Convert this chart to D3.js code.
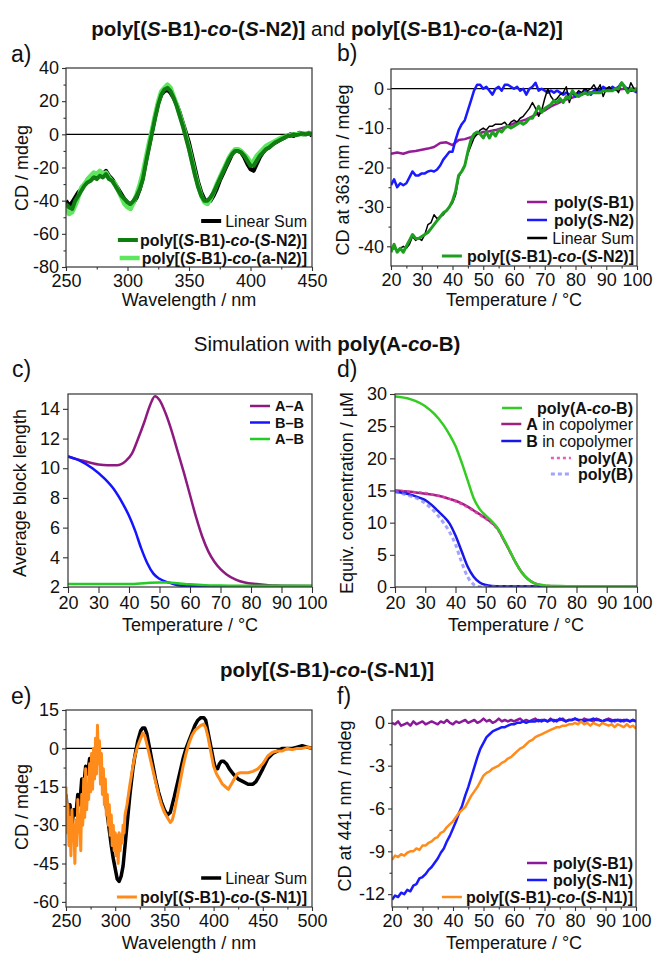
<!DOCTYPE html>
<html lang="en">
<head>
<meta charset="UTF-8" />
<title>CD spectra, melting curves and copolymer simulation</title>
<script src="https://d3js.org/d3.v7.min.js"></script>
<style>
  body { margin: 0; background: #fff; }
  svg { font-family: 'Liberation Sans', Arial, Helvetica, sans-serif; }
  text { white-space: pre; fill: #111; }
  .axis line { stroke: #333; stroke-width: 1.1; }
  .axis text { font-size: 18px; fill: #111; font-family: 'Liberation Sans', Arial, sans-serif; }
</style>
</head>
<body>
<svg id="fig" width="655" height="953"></svg>
<script>
// ---------- a) CD spectra, 250-450 nm ----------
const aWave = d3.range(250, 450.01, 2.5);
const aLinSum = [-40,-43,-41,-38,-35,-33,-30,-28,-26,-24,
  -25,-23,-24,-22,-25,-27,-30,-33,-36,-39,
  -41,-43,-41,-38,-33,-26,-16,-7,2,11,
  19,24,26,27,25,22,18,13,7,1,
  -5,-13,-21,-29,-35,-39,-41,-40,-37,-33,
  -28,-24,-20,-16,-12,-10,-10,-11,-14,-18,
  -21,-22,-18,-14,-11,-9,-8,-6,-5,-4,
  -3,-2,-1,0,-1,0,1,0,0,1,
  -1];
const aSN2 = [-42,-44,-45,-40,-37,-34,-31,-29,-28,-26,
  -27,-25,-26,-24,-27,-28,-31,-34,-37,-39,
  -41,-42,-40,-37,-33,-27,-17,-8,1,10,
  18,24,27,28,26,22,17,11,5,-2,
  -9,-17,-25,-32,-37,-40,-40,-38,-35,-31,
  -27,-23,-19,-15,-12,-10,-10,-11,-13,-16,
  -19,-19,-16,-13,-11,-9,-8,-6.5,-5,-4,
  -3,-2,-1,-1,0,-0.5,0,0.5,0,0.5,
  0];
const aAN2 = [-44,-48,-47,-43,-38,-32,-30,-27,-25,-23,
  -24,-22,-24,-23,-26,-28,-30,-34,-38,-42,
  -44,-45,-41,-36,-30,-23,-14,-5,3,12,
  20,26,28,30,28,23,18,12,6,-1,
  -8,-16,-24,-31,-37,-41,-42,-39,-35,-30,
  -26,-22,-18,-14,-11,-9,-9,-10,-12,-14,
  -17,-16,-13,-11,-9,-7,-6,-5,-4,-3,
  -2,-1.5,-1,-0.5,0,0,0.5,0,0.5,0.5,
  0.5];

// ---------- b) CD at 363 nm vs temperature ----------
const bTemp1 = d3.range(20, 100.01, 1);
const bTemp2 = d3.range(20, 100.01, 2);
const bSB1 = [-16.5,-16.2,-16.5,-16,-15.8,-15.5,-15.2,-14.8,-13.8,-13.6,
  -14.3,-13,-12.8,-12.3,-11.5,-11,-10.8,-10.5,-10,-9.5,
  -8.8,-8.3,-7.8,-7,-6.2,-5.5,-4.5,-3.8,-3,-2.5,
  -2,-1.5,-1,-0.8,-0.6,-0.4,-0.3,-0.2,0,0,
  0];
const bSN2 = [-24.5,-23,-25,-24,-24.5,-24,-22.5,-21,-22,-22,
  -21.5,-21.5,-21,-20.8,-21,-20.5,-19.5,-18,-17,-16,
  -16,-13,-10.5,-9,-8,-5.5,-3,-0.5,1,1,
  0,0.5,-0.5,-1.5,0,0.5,-0.5,1,1,0.5,
  0,0.5,-0.5,0,-1.5,0,0.5,1.5,-0.5,0,
  -0.5,-1,-0.5,-1,-0.5,-1,-1.5,-1,-1.5,-1,
  -2,-1,-1.5,-0.5,-1,-1.5,-0.5,0,-0.5,0.5,
  0,-0.5,0.5,0,0.5,1.5,0.5,0,-0.5,-0.5,
  -1];
const bLinSum = [-41,-40.5,-41,-40.5,-40,-40.5,-39.5,-37.5,-38.5,-38,
  -38.5,-37,-34.5,-34,-32,-33,-32.5,-32,-31,-30,
  -29,-27,-22.5,-21,-19.5,-16.5,-14.5,-12.5,-11.5,-10.5,
  -10,-10.5,-9.5,-9.5,-9,-9,-9,-8.5,-9.5,-8.5,
  -8,-8.5,-7.5,-7,-6,-5,-3.5,-5,-7,-5.5,
  -2.5,0,-2,-3,-2.5,-1.5,-1,0.5,-3.5,-1,
  -1.5,-0.5,-1,0,-0.5,0,1,-0.5,1,-2,
  0,0.5,-0.5,0,-1,1.5,0,-1,1.5,0,
  -0.5];
const bCo = [-41.5,-39.5,-41.5,-40.5,-41.5,-40,-38.5,-37,-38,-38,
  -37.5,-37,-36.5,-35.5,-34.5,-33.5,-32.5,-31.5,-31,-30,
  -28.5,-26,-22,-21,-19.5,-16,-13,-11.5,-11,-11.5,
  -12.5,-11,-12.5,-11,-12,-10.5,-11,-10,-9.5,-10,
  -9.5,-9,-8.5,-9,-8.5,-7.5,-7.5,-6,-4.5,-6,
  -5,-4.5,-4,-3,-3.5,-2.5,-3.5,-2,-2.5,-0.5,
  -1.5,-2,-1.5,-1,-1.5,-1,-1,-1,-1,-0.5,
  -0.5,-0.5,-0.5,0,0,1.5,0.5,-1,0,-0.5,
  0];

// ---------- c) average block length (simulation) ----------
const cAAT = [20,25,30,33,36,39,41,43,45,47,48.5,50,52,54,56,58,60,62,64,66,68,70,72,75,78,82,88,100];
const cAA = [10.8,10.5,10.25,10.2,10.2,10.5,11.0,12.0,13.1,14.3,14.85,14.6,13.7,12.5,11.1,9.7,8.2,6.7,5.4,4.4,3.7,3.2,2.85,2.5,2.3,2.2,2.1,2.07];
const cBBT = [20,24,28,32,35,38,40,42,44,46,48,50,53,56,60,70,100];
const cBB = [10.8,10.5,10.0,9.3,8.6,7.6,6.8,5.8,4.6,3.6,2.9,2.55,2.3,2.12,2.05,2.05,2.05];
const cABT = [20,30,40,46,50,53,56,60,65,70,80,100];
const cAB = [2.2,2.2,2.2,2.27,2.3,2.3,2.25,2.18,2.12,2.1,2.08,2.08];

// ---------- d) equivalent concentrations (simulation) ----------
const dCoT = [20,25,30,33,36,38,40,42,44,46,48,50,52,54,56,58,60,62,64,66,68,70,75,80,90,100];
const dCo = [29.6,29.2,28.1,26.9,25.2,23.7,21.9,19.4,16.6,13.8,12.1,11.1,10.2,9.1,7.4,5.6,3.7,2.2,1.2,0.6,0.35,0.2,0.15,0.1,0.1,0.1];
const dAT = [20,25,30,33,36,38,40,42,44,46,48,50,52,54,56,58,60,62,64,66,68,70,80,100];
const dA = [15,14.8,14.5,14.3,14.0,13.7,13.4,13.0,12.5,11.9,11.3,10.7,10.0,9.0,7.3,5.5,3.7,2.2,1.2,0.6,0.3,0.15,0.1,0.1];
const dPolyA = [15,14.8,14.6,14.3,14.0,13.7,13.3,12.9,12.4,11.8,11.2,10.6,9.9,8.9,7.3,5.5,3.7,2.2,1.2,0.6,0.3,0.15,0.1,0.1];
const dBT = [20,24,28,30,32,34,36,38,40,42,44,46,48,50,52,55,100];
const dB = [14.8,14.5,13.9,13.5,12.8,11.9,11.0,9.9,8.0,5.6,3.2,1.6,0.7,0.3,0.15,0.1,0.1];
const dPolyBT = [20,24,28,32,36,38,40,42,44,46,48,100];
const dPolyB = [14.8,14.3,13.6,12.2,10.0,8.6,6.6,3.9,1.6,0.4,0.05,0.05];

// ---------- e) CD spectra, 250-500 nm ([nm, mdeg]) ----------
const eLinSum = [[250,-18],[252,-28],[254,-22],[256,-30],[258,-24],[260,-26],[262,-18],[264,-22],[266,-12],[268,-15],
  [270,-7],[272,-10],[274,-4],[276,-6],[278,-2],[280,0],[282,3],[284,-2],[286,-8],[288,-14],[290,-20],[292,-26],
  [294,-32],[296,-38],[298,-43],[300,-47],[302,-51],[304,-52],[306,-50],[308,-46],[310,-38],[312,-30],[315,-18],
  [318,-8],[320,-3],[323,3],[326,7],[328,8],[330,8],[332,6],[335,0],[338,-6],[341,-12],[344,-17],[347,-21],
  [350,-24],[353,-26],[356,-25],[358,-22],[360,-19],[363,-14],[366,-9],[369,-4],[372,0],[375,3],[378,6],[381,9],
  [384,11],[387,12],[390,12],[392,11],[394,7],[396,3],[398,-1],[400,-5],[402,-8],[404,-8],[406,-6],[408,-5],
  [410,-5],[413,-6],[416,-8],[420,-10],[425,-12],[430,-13],[435,-14],[440,-14],[443,-13],[446,-11],[450,-8],
  [455,-4],[460,-2],[465,-1],[470,0],[475,0],[480,0],[485,0.5],[490,1],[495,0.5],[500,0]];
const eCo = [[250,-15],[251,-33],[252,-22],[253,-38],[254,-27],[255,-42],[256,-24],[257,-36],[258,-30],[259,-45],
  [260,-28],[261,-38],[262,-20],[263,-33],[264,-26],[265,-40],[266,-18],[267,-30],[268,-12],[269,-27],[270,-8],
  [271,-24],[272,-14],[273,-20],[274,-6],[275,-17],[276,-2],[277,-16],[278,0],[279,-12],[280,4],[281,-10],[282,9],
  [283,-6],[284,3],[285,-14],[286,-2],[287,-18],[288,-8],[289,-22],[290,-12],[291,-26],[292,-18],[293,-30],
  [294,-22],[295,-34],[296,-26],[297,-38],[298,-30],[299,-40],[300,-33],[301,-42],[302,-34],[303,-45],[304,-33],
  [305,-40],[306,-34],[307,-37],[308,-30],[309,-33],[310,-26],[312,-22],[315,-14],[318,-7],[320,-3],[323,1],
  [326,4],[328,6],[330,5],[332,2],[335,-3],[338,-8],[341,-13],[344,-18],[347,-22],[350,-25],[353,-27],[356,-29],
  [358,-28],[360,-25],[363,-19],[366,-13],[369,-7],[372,-2],[375,2],[378,5],[381,7],[384,8],[387,9],[390,9.5],
  [392,8],[394,5],[396,1],[398,-3],[400,-7],[403,-10],[406,-12],[409,-14],[412,-15],[415,-16],[418,-14],[421,-12],
  [424,-10],[427,-9.5],[430,-9.5],[435,-9.5],[440,-9],[445,-8],[450,-6],[455,-3],[460,-1.5],[465,-1],[470,-1],
  [475,0],[480,-0.5],[485,0],[490,0],[495,0.5],[500,0]];

// ---------- f) CD at 441 nm vs temperature ----------
const fTemp = d3.range(20, 100.01, 1);
const fSB1 = [0,-0.1,0.1,-0.2,-0.1,0,-0.2,0.1,-0.1,0,
  0.1,-0.1,0,0.1,0,-0.1,0.1,0,0.2,0,
  -0.1,0.1,0,0.1,0.2,0,0.1,0.2,0,0.1,
  0.3,0.1,0.2,0,0.1,0.3,0.1,0.2,0.1,0.2,
  0.1,0.2,0.3,0.1,0.2,0.1,0.2,0.3,0.1,0.2,
  0.2,0.1,0.3,0.1,0.2,0.2,0.3,0.1,0.2,0.2,
  0.3,0.2,0.1,0.3,0.2,0.2,0.1,0.3,0.2,0.1,
  0.2,0.3,0.2,0.1,0.2,0.2,0.1,0.2,0.1,0.2,
  0.1];
const fSN1 = [-12.4,-12.1,-12.2,-11.9,-12.0,-11.7,-11.8,-11.4,-11.3,-10.9,
  -10.8,-10.6,-10.3,-10.1,-9.8,-9.5,-9.1,-8.8,-8.3,-7.9,
  -7.4,-6.9,-6.3,-5.8,-5.1,-4.5,-3.8,-3.1,-2.4,-1.8,
  -1.4,-1.0,-0.8,-0.6,-0.5,-0.4,-0.3,-0.3,-0.2,-0.1,
  -0.1,0,0,0.1,0,0.1,0.1,0.1,0.2,0.1,
  0.2,0.1,0.2,0.2,0.1,0.3,0.2,0.1,0.2,0.2,
  0.3,0.2,0.2,0.1,0.2,0.2,0.3,0.2,0.2,0.1,
  0.2,0.2,0.1,0.2,0.2,0.1,0.2,0.2,0.1,0.2,
  0.1];
const fCo = [-9.6,-9.3,-9.4,-9.2,-9.3,-9.1,-9.0,-9.0,-8.8,-8.9,
  -8.6,-8.6,-8.4,-8.3,-8.1,-8.0,-7.7,-7.6,-7.3,-7.1,
  -6.9,-6.6,-6.3,-6.1,-5.9,-5.5,-5.1,-4.8,-4.5,-4.1,
  -3.7,-3.5,-3.4,-3.2,-3.1,-3.0,-2.8,-2.7,-2.5,-2.4,
  -2.2,-2.0,-1.8,-1.7,-1.5,-1.3,-1.2,-1.0,-0.9,-0.8,
  -0.7,-0.6,-0.5,-0.4,-0.3,-0.3,-0.2,-0.2,-0.1,-0.1,
  0,-0.1,0.1,-0.1,0,-0.2,0,-0.1,-0.2,0,
  -0.1,-0.2,-0.1,-0.3,-0.1,-0.2,-0.3,-0.1,-0.3,-0.2,
  -0.4];

// tick values
const temps10 = d3.range(20, 100.01, 10);
const temps5 = d3.range(25, 100, 10);

const fig = d3.select('#fig');

// '*' toggles bold, '_' toggles italic
function rich(textSel, str) {
  let bold = false, ital = false, buf = '';
  const flush = () => {
    if (!buf) return;
    textSel.append('tspan').text(buf)
      .attr('font-weight', bold ? 'bold' : null)
      .attr('font-style', ital ? 'italic' : null);
    buf = '';
  };
  for (const ch of str) {
    if (ch === '*') { flush(); bold = !bold; }
    else if (ch === '_') { flush(); ital = !ital; }
    else buf += ch;
  }
  flush();
  return textSel;
}

let clipCount = 0;
function drawPanel(p) {
  const [x0, y0, x1, y1] = p.box;
  const x = d3.scaleLinear().domain(p.xDomain).range([x0, x1]);
  const y = d3.scaleLinear().domain(p.yDomain).range([y1, y0]);
  const g = fig.append('g');
  const fmt = (d) => String(d);
  const xt = p.xTick || [4, 3], yt = p.yTick || [4, 3];

  // minor ticks
  if (p.xMinor) g.append('g').attr('class', 'axis').attr('transform', `translate(0,${y1})`)
    .call(d3.axisBottom(x).tickValues(p.xMinor).tickSize(2.5).tickFormat(''));
  if (p.yMinor) g.append('g').attr('class', 'axis').attr('transform', `translate(${x0},0)`)
    .call(d3.axisLeft(y).tickValues(p.yMinor).tickSize(2.5).tickFormat(''));
  // major ticks
  g.append('g').attr('class', 'axis').attr('transform', `translate(0,${y1})`)
    .call(d3.axisBottom(x).tickValues(p.xTicks).tickSize(xt[0]).tickPadding(xt[1]).tickFormat(fmt));
  g.append('g').attr('class', 'axis').attr('transform', `translate(${x0},0)`)
    .call(d3.axisLeft(y).tickValues(p.yTicks).tickSize(yt[0]).tickPadding(yt[1]).tickFormat(fmt));
  g.selectAll('.domain').remove();

  // clip for the curves
  const id = 'clip' + (clipCount++);
  g.append('clipPath').attr('id', id).append('rect')
    .attr('x', x0).attr('y', y0).attr('width', x1 - x0).attr('height', y1 - y0);

  if (p.zeroLine) {
    g.append('line').attr('x1', x0).attr('x2', x1)
      .attr('y1', y(0)).attr('y2', y(0))
      .attr('stroke', '#000').attr('stroke-width', 1.2);
  }

  const line = d3.line().x((d) => x(d[0])).y((d) => y(d[1]))
    .curve(p.smooth ? d3.curveMonotoneX : d3.curveLinear);
  p.series.forEach((s) => {
    g.append('path').datum(s.data)
      .attr('clip-path', `url(#${id})`)
      .attr('fill', 'none')
      .attr('stroke', s.color)
      .attr('stroke-width', s.width)
      .attr('stroke-opacity', s.opacity || 1)
      .attr('stroke-dasharray', s.dash || null)
      .attr('stroke-linejoin', 'round')
      .attr('d', line);
  });

  // frame
  g.append('rect').attr('x', x0).attr('y', y0)
    .attr('width', x1 - x0).attr('height', y1 - y0)
    .attr('fill', 'none').attr('stroke', '#333').attr('stroke-width', 1.2);

  // legend
  const lg = p.legend;
  lg.items.forEach((it, i) => {
    const s = p.series.find((d) => d.key === it.key);
    const yy = lg.ys[i];
    const t = g.append('text').attr('x', lg.x).attr('y', yy).attr('dy', '0.35em')
      .attr('text-anchor', lg.anchor).style('font-size', (lg.size || 16) + 'px');
    rich(t, it.text);
    const tx = lg.anchor === 'end' ? t.node().getBBox().x : lg.x;
    const gap = it.gap != null ? it.gap : 4;
    const len = 20;
    g.append('line')
      .attr('x1', tx - gap - len).attr('x2', tx - gap)
      .attr('y1', yy).attr('y2', yy)
      .attr('stroke', s.color).attr('stroke-width', s.legendWidth || s.width)
      .attr('stroke-opacity', s.opacity || 1)
      .attr('stroke-dasharray', s.dash || null);
  });

  // axis titles and panel letter
  g.append('text').attr('x', (x0 + x1) / 2).attr('y', p.xTitleY)
    .attr('text-anchor', 'middle').style('font-size', '18px').text(p.xTitle);
  rich(g.append('text')
    .attr('transform', `translate(${p.yTitleX},${p.yTitleC}) rotate(-90)`)
    .attr('dy', '0.35em').attr('text-anchor', 'middle').style('font-size', '18px'), p.yTitle);
  g.append('text').attr('x', p.tag[1]).attr('y', p.tag[2])
    .style('font-size', '23px').text(p.tag[0]);
}

// section titles
[
  ['*poly[(_S_-B1)-_co_-(_S_-N2)]* and *poly[(_S_-B1)-_co_-(a-N2)]*', 36],
  ['Simulation with *poly(A-_co_-B)*', 351],
  ['*poly[(_S_-B1)-_co_-(_S_-N1)]*', 677],
].forEach(([s, yy]) => {
  rich(fig.append('text').attr('x', 327).attr('y', yy)
    .attr('text-anchor', 'middle').style('font-size', '20.5px'), s);
});

const pairs = (xs, ys) => d3.zip(xs, ys);

drawPanel({
  box: [66, 68, 312, 267], xDomain: [250, 450], yDomain: [-80, 40],
  xTicks: [250, 300, 350, 400, 450], xMinor: [275, 325, 375, 425],
  yTicks: [40, 20, 0, -20, -40, -60, -80], yMinor: [30, 10, -10, -30, -50, -70],
  zeroLine: true,
  series: [
    { key: 'sum', data: pairs(aWave, aLinSum), color: '#000', width: 4 },
    { key: 'an2', data: pairs(aWave, aAN2), color: '#5ee65e', width: 4.5 },
    { key: 'sn2', data: pairs(aWave, aSN2), color: '#0f7d0f', width: 4 },
  ],
  legend: { anchor: 'end', x: 307, ys: [221, 240, 258], items: [
    { key: 'sum', text: 'Linear Sum' },
    { key: 'sn2', text: '*poly[(_S_-B1)-_co_-(_S_-N2)]*', gap: 2 },
    { key: 'an2', text: '*poly[(_S_-B1)-_co_-(a-N2)]*', gap: 2 },
  ] },
  xTitle: 'Wavelength / nm', xTitleY: 306,
  yTitle: 'CD / mdeg', yTitleX: 22, yTitleC: 168,
  tag: ['a)', 11, 62],
});

drawPanel({
  box: [391, 69, 637, 266], xDomain: [20, 100], yDomain: [-45, 5],
  xTicks: temps10, xMinor: temps5,
  yTicks: [0, -10, -20, -30, -40], yMinor: [-5, -15, -25, -35],
  zeroLine: true,
  series: [
    { key: 'b1', data: pairs(bTemp2, bSB1), color: '#951c95', width: 2.5 },
    { key: 'n2', data: pairs(bTemp1, bSN2), color: '#1a1aff', width: 2.5 },
    { key: 'sum', data: pairs(bTemp1, bLinSum), color: '#000', width: 1.5, legendWidth: 2.5 },
    { key: 'co', data: pairs(bTemp1, bCo), color: '#1f9f1f', width: 3 },
  ],
  legend: { anchor: 'end', x: 634, ys: [202, 220, 238, 256], items: [
    { key: 'b1', text: '*poly(_S_-B1)*', gap: 7 },
    { key: 'n2', text: '*poly(_S_-N2)*', gap: 7 },
    { key: 'sum', text: 'Linear Sum', gap: 5 },
    { key: 'co', text: '*poly[(_S_-B1)-_co_-(_S_-N2)]*', gap: 5 },
  ] },
  xTitle: 'Temperature / °C', xTitleY: 306,
  yTitle: 'CD at 363 nm / mdeg', yTitleX: 343, yTitleC: 170,
  tag: ['b)', 337, 61],
});

drawPanel({
  box: [68, 394, 312, 587], xDomain: [20, 100], yDomain: [2, 15],
  xTicks: temps10, yTicks: [2, 4, 6, 8, 10, 12, 14],
  xTick: [6, 3], yTick: [5, 3], smooth: true,
  series: [
    { key: 'aa', data: pairs(cAAT, cAA), color: '#8e1a80', width: 2.5 },
    { key: 'bb', data: pairs(cBBT, cBB), color: '#1414ff', width: 2.5 },
    { key: 'ab', data: pairs(cABT, cAB), color: '#22cc22', width: 2.5 },
  ],
  legend: { anchor: 'start', x: 275, size: 14.5, ys: [406, 422.5, 439], items: [
    { key: 'aa', text: '*A–A*', gap: 5 },
    { key: 'bb', text: '*B–B*', gap: 5 },
    { key: 'ab', text: '*A–B*', gap: 5 },
  ] },
  xTitle: 'Temperature / °C', xTitleY: 631,
  yTitle: 'Average block length', yTitleX: 20, yTitleC: 493,
  tag: ['c)', 12, 377],
});

drawPanel({
  box: [395, 394, 637, 587], xDomain: [20, 100], yDomain: [0, 30],
  xTicks: temps10, yTicks: [0, 5, 10, 15, 20, 25, 30],
  xTick: [6, 3], yTick: [5, 3], smooth: true,
  series: [
    { key: 'a', data: pairs(dAT, dA), color: '#a0207e', width: 2.5 },
    { key: 'pa', data: pairs(dAT, dPolyA), color: '#e540b0', width: 2.5, dash: '3,3', opacity: 0.85 },
    { key: 'b', data: pairs(dBT, dB), color: '#1818e6', width: 2.5 },
    { key: 'pb', data: pairs(dPolyBT, dPolyB), color: '#7a7aff', width: 3, dash: '4,3', opacity: 0.7 },
    { key: 'co', data: pairs(dCoT, dCo), color: '#33cc22', width: 2.5 },
  ],
  legend: { anchor: 'end', x: 633, ys: [408, 424, 441, 458, 474], items: [
    { key: 'co', text: '*poly(A-_co_-B)*', gap: 15 },
    { key: 'a', text: '*A* in copolymer', gap: 5 },
    { key: 'b', text: '*B* in copolymer', gap: 5 },
    { key: 'pa', text: '*poly(A)*', gap: 7 },
    { key: 'pb', text: '*poly(B)*', gap: 7 },
  ] },
  xTitle: 'Temperature / °C', xTitleY: 631,
  yTitle: 'Equiv. concentration / µM', yTitleX: 347, yTitleC: 493,
  tag: ['d)', 337, 377],
});

drawPanel({
  box: [66, 710, 312, 907], xDomain: [250, 500], yDomain: [-62, 15],
  xTicks: [250, 300, 350, 400, 450, 500], xMinor: [275, 325, 375, 425, 475],
  yTicks: [15, 0, -15, -30, -45, -60], yMinor: [7.5, -7.5, -22.5, -37.5, -52.5],
  zeroLine: true,
  series: [
    { key: 'sum', data: eLinSum, color: '#000', width: 3.5 },
    { key: 'co', data: eCo, color: '#ff8c1a', width: 3 },
  ],
  legend: { anchor: 'end', x: 307, ys: [878, 897], items: [
    { key: 'sum', text: 'Linear Sum' },
    { key: 'co', text: '*poly[(_S_-B1)-_co_-(_S_-N1)]*', gap: 3 },
  ] },
  xTitle: 'Wavelength / nm', xTitleY: 949,
  yTitle: 'CD / mdeg', yTitleX: 22, yTitleC: 807,
  tag: ['e)', 11, 704],
});

drawPanel({
  box: [392, 710, 636, 907], xDomain: [20, 100], yDomain: [-12.9, 0.9],
  xTicks: temps10, xMinor: temps5,
  yTicks: [0, -3, -6, -9, -12], yMinor: [-1.5, -4.5, -7.5, -10.5],
  series: [
    { key: 'b1', data: pairs(fTemp, fSB1), color: '#8a1a9a', width: 2.5 },
    { key: 'n1', data: pairs(fTemp, fSN1), color: '#1a1aff', width: 2.5 },
    { key: 'co', data: pairs(fTemp, fCo), color: '#ff8c1a', width: 2.5 },
  ],
  legend: { anchor: 'end', x: 633, ys: [863, 880, 897], items: [
    { key: 'b1', text: '*poly(_S_-B1)*', gap: 6 },
    { key: 'n1', text: '*poly(_S_-N1)*', gap: 6 },
    { key: 'co', text: '*poly[(_S_-B1)-_co_-(_S_-N1)]*', gap: 4 },
  ] },
  xTitle: 'Temperature / °C', xTitleY: 949,
  yTitle: 'CD at 441 nm / mdeg', yTitleX: 345, yTitleC: 806,
  tag: ['f)', 337, 704],
});
</script>
</body>
</html>
